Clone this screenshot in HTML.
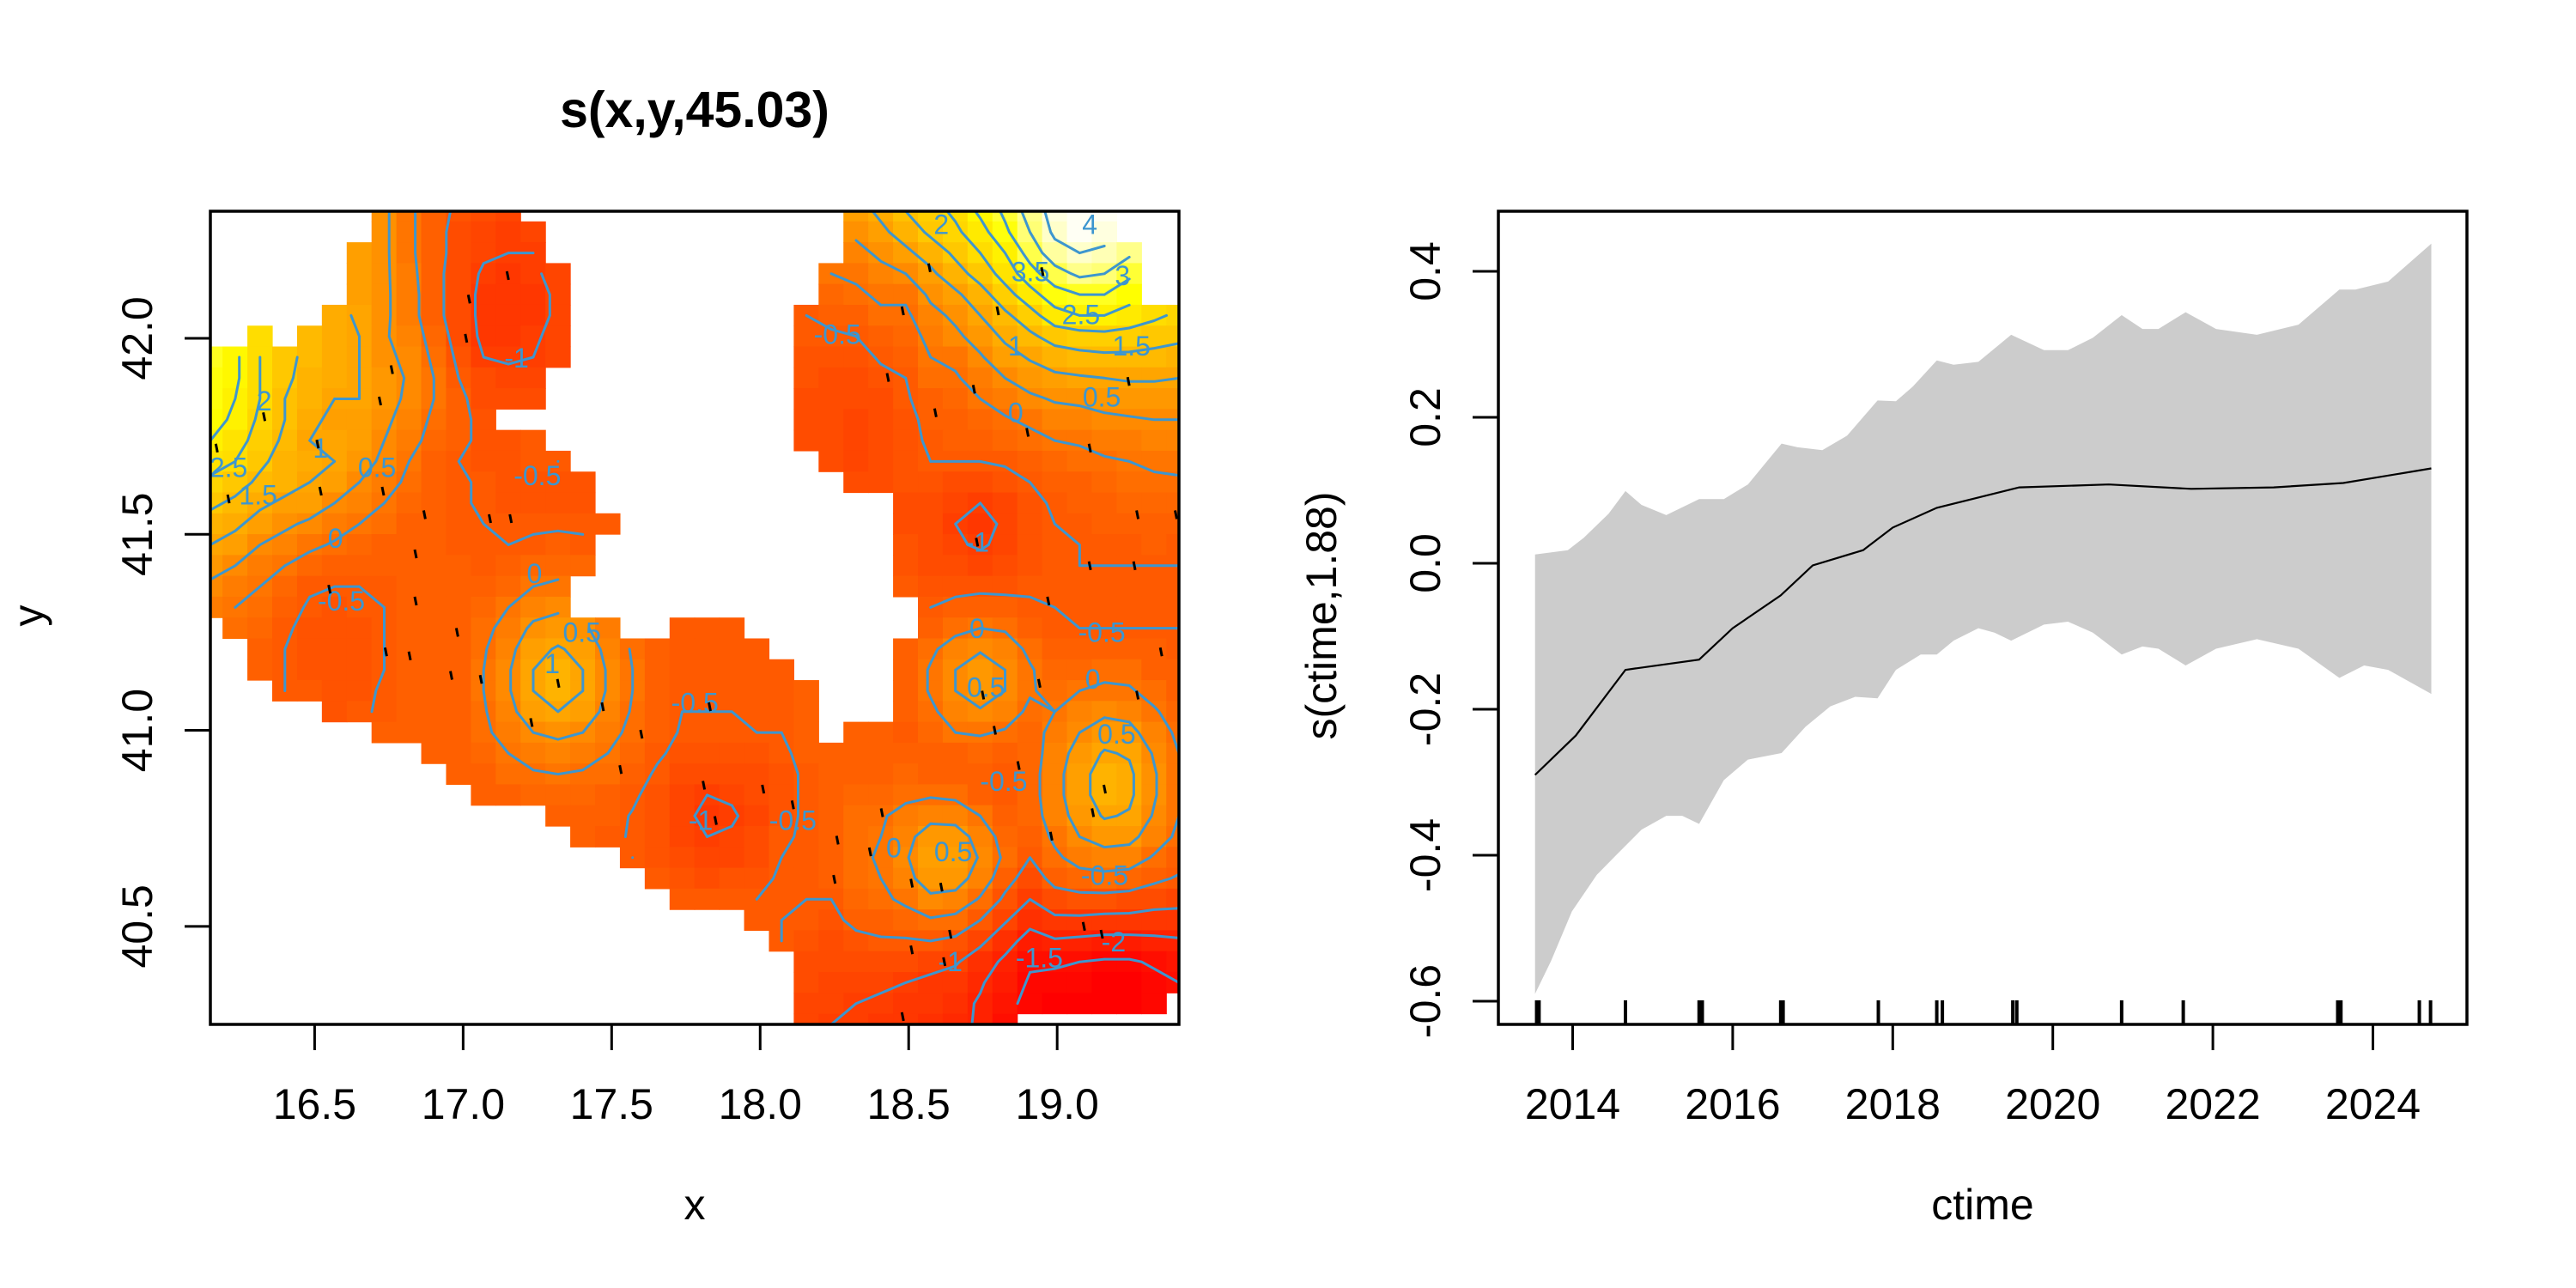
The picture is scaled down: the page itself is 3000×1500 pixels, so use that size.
<!DOCTYPE html>
<html>
<head>
<meta charset="utf-8">
<style>
html,body{margin:0;padding:0;background:#fff;}
svg{display:block;}
text{font-family:"Liberation Sans",Arial,sans-serif;fill:#000;}
</style>
</head>
<body>
<svg id="fig" width="3000" height="1500" viewBox="0 0 3000 1500" xmlns="http://www.w3.org/2000/svg">
  <rect x="0" y="0" width="3000" height="1500" fill="#fff"/>
  <defs>
    <clipPath id="clipL"><rect x="245" y="246" width="1128" height="947"/></clipPath>
    <clipPath id="clipR"><rect x="1745" y="246" width="1128" height="947"/></clipPath>
  </defs>
  <g id="leftPanel">
    <text x="809" y="148" font-size="59" font-weight="bold" text-anchor="middle">s(x,y,45.03)</text>
    <g id="heat" clip-path="url(#clipL)"></g>
    <g id="contours" clip-path="url(#clipL)"></g>
    <g id="clabels" clip-path="url(#clipL)"></g>
    <g id="pts" clip-path="url(#clipL)"></g>
    <rect x="245" y="246" width="1128" height="947" fill="none" stroke="#000" stroke-width="3.5"/>
    <g id="lAxes"></g>
    <text x="809" y="1420" font-size="50" text-anchor="middle">x</text>
    <text transform="translate(50,717) rotate(-90)" font-size="50" text-anchor="middle">y</text>
  </g>
  <g id="rightPanel">
    <g clip-path="url(#clipR)">
      <path id="band" fill="#cccccc" stroke="none"/>
      <path id="fit" fill="none" stroke="#000" stroke-width="2.2"/>
      <g id="rug"></g>
    </g>
    <rect x="1745" y="246" width="1128" height="947" fill="none" stroke="#000" stroke-width="3.5"/>
    <g id="rAxes"></g>
    <text x="2309" y="1420" font-size="50" text-anchor="middle">ctime</text>
    <text transform="translate(1556,717) rotate(-90)" font-size="50" text-anchor="middle">s(ctime,1.88)</text>
  </g>
</svg>
<script>
const NS = "http://www.w3.org/2000/svg";
const N = null;
// ---------- left panel data ----------
const xLim = [16.149, 19.41];
const yLim = [40.25, 42.324];
const xTicks = [16.5, 17.0, 17.5, 18.0, 18.5, 19.0];
const xTickLabels = ["16.5", "17.0", "17.5", "18.0", "18.5", "19.0"];
const yTicks = [40.5, 41.0, 41.5, 42.0];
const yTickLabels = ["40.5", "41.0", "41.5", "42.0"];
const zLim = [-2.3, 4.4];
const contourLevels = [-2, -1.5, -1, -0.5, 0, 0.5, 1, 1.5, 2, 2.5, 3, 3.5, 4];
const zGrid = [
[N,N,N,N,N,N,N,0.6,0.1,-0.3,-0.6,-0.8,-0.9,N,N,N,N,N,N,N,N,N,N,N,N,N,0.8,1.1,1.5,1.8,2.1,2.6,3.1,3.7,4.2,4.4,4.3,N,N,N],
[N,N,N,N,N,N,N,0.6,0.1,-0.3,-0.7,-0.9,-1.0,-0.9,N,N,N,N,N,N,N,N,N,N,N,N,0.6,0.9,1.2,1.6,1.9,2.3,2.9,3.5,4.1,4.3,4.2,N,N,N],
[N,N,N,N,N,N,0.9,0.6,0.1,-0.3,-0.7,-0.95,-1.0,-1.0,N,N,N,N,N,N,N,N,N,N,N,N,0.35,0.6,0.9,1.2,1.6,2.0,2.5,3.2,3.8,4.0,3.9,3.6,N,N],
[N,N,N,N,N,N,0.9,0.6,0.15,-0.3,-0.8,-1.05,-1.1,-1.05,-0.9,N,N,N,N,N,N,N,N,N,N,0.0,0.1,0.35,0.5,0.9,1.3,1.7,2.2,2.8,3.3,3.6,3.5,3.1,N,N],
[N,N,N,N,N,N,0.9,0.6,0.2,-0.3,-0.8,-1.1,-1.2,-1.1,-0.95,N,N,N,N,N,N,N,N,N,N,-0.2,-0.1,0.1,0.1,0.6,0.9,1.3,1.8,2.3,2.8,3.0,3.0,2.7,N,N],
[N,N,N,N,N,1.1,0.95,0.6,0.2,-0.3,-0.8,-1.1,-1.2,-1.1,-0.95,N,N,N,N,N,N,N,N,N,-0.5,-0.4,-0.3,-0.1,-0.1,0.35,0.6,1.0,1.4,1.8,2.3,2.5,2.5,2.3,2.1,1.9],
[N,N,2.1,N,1.4,1.1,1.0,0.55,0.3,-0.2,-0.7,-1.1,-1.15,-1.05,-0.9,N,N,N,N,N,N,N,N,N,-0.55,-0.55,-0.5,-0.3,-0.25,0.15,0.4,0.7,1.1,1.4,1.7,1.8,1.85,1.8,1.7,1.6],
[3.0,2.6,2.0,1.6,1.4,1.1,1.0,0.6,0.4,-0.1,-0.6,-1.0,-1.05,-1.0,-0.85,N,N,N,N,N,N,N,N,N,-0.6,-0.65,-0.65,-0.45,-0.4,0.0,0.1,0.45,0.8,1.05,1.25,1.35,1.4,1.4,1.35,1.3],
[2.9,2.6,2.0,1.6,1.3,1.1,1.0,0.7,0.45,0.0,-0.5,-0.8,-0.9,-0.85,N,N,N,N,N,N,N,N,N,N,-0.65,-0.75,-0.75,-0.6,-0.5,-0.15,-0.05,0.2,0.5,0.75,0.9,0.95,1.0,1.05,1.05,1.0],
[2.8,2.5,2.0,1.5,1.2,1.0,1.0,0.7,0.4,0.0,-0.4,-0.7,-0.8,-0.8,N,N,N,N,N,N,N,N,N,N,-0.7,-0.8,-0.8,-0.7,-0.55,-0.3,-0.2,0.0,0.2,0.4,0.55,0.6,0.7,0.75,0.75,0.75],
[2.7,2.4,1.9,1.5,1.1,0.9,0.9,0.6,0.3,-0.1,-0.4,-0.6,N,N,N,N,N,N,N,N,N,N,N,N,-0.7,-0.8,-0.85,-0.75,-0.6,-0.4,-0.3,-0.2,-0.05,0.1,0.25,0.3,0.4,0.45,0.5,0.5],
[2.5,2.2,1.8,1.4,1.0,0.95,0.8,0.5,0.2,-0.2,-0.4,-0.6,-0.6,-0.55,N,N,N,N,N,N,N,N,N,N,-0.7,-0.8,-0.85,-0.8,-0.6,-0.45,-0.4,-0.35,-0.25,-0.15,0.0,0.05,0.15,0.2,0.3,0.3],
[2.2,2.0,1.6,1.3,1.1,1.0,0.7,0.4,0.0,-0.3,-0.5,-0.6,-0.6,-0.55,-0.5,N,N,N,N,N,N,N,N,N,N,-0.8,-0.85,-0.8,-0.65,-0.5,-0.5,-0.5,-0.45,-0.35,-0.2,-0.15,-0.05,0.0,0.1,0.1],
[1.9,1.7,1.4,1.2,1.0,0.8,0.5,0.2,-0.1,-0.3,-0.45,-0.55,-0.6,-0.6,-0.6,-0.6,N,N,N,N,N,N,N,N,N,N,-0.8,-0.75,-0.65,-0.6,-0.7,-0.75,-0.65,-0.5,-0.35,-0.3,-0.2,-0.15,-0.1,-0.05],
[1.6,1.4,1.1,0.9,0.8,0.5,0.3,0.0,-0.2,-0.35,-0.45,-0.55,-0.6,-0.6,-0.6,-0.6,N,N,N,N,N,N,N,N,N,N,N,N,-0.7,-0.7,-0.9,-1.0,-0.85,-0.6,-0.45,-0.4,-0.3,-0.25,-0.2,-0.2],
[1.3,1.1,0.8,0.6,0.4,0.2,0.0,-0.15,-0.3,-0.35,-0.45,-0.5,-0.55,-0.55,-0.55,-0.55,-0.55,N,N,N,N,N,N,N,N,N,N,N,-0.7,-0.75,-1.0,-1.1,-0.95,-0.65,-0.5,-0.45,-0.4,-0.35,-0.3,-0.35],
[1.0,0.8,0.5,0.3,0.1,-0.05,-0.2,-0.3,-0.3,-0.35,-0.45,-0.5,-0.5,-0.45,-0.4,-0.45,N,N,N,N,N,N,N,N,N,N,N,N,-0.65,-0.75,-0.95,-1.05,-0.9,-0.65,-0.55,-0.5,-0.45,-0.45,-0.4,-0.45],
[0.7,0.5,0.2,0.0,-0.2,-0.3,-0.35,-0.35,-0.35,-0.35,-0.42,-0.45,-0.4,-0.25,-0.2,-0.25,N,N,N,N,N,N,N,N,N,N,N,N,-0.6,-0.7,-0.8,-0.85,-0.8,-0.6,-0.55,-0.5,-0.5,-0.5,-0.5,-0.5],
[0.4,0.2,0.0,-0.2,-0.45,-0.5,-0.5,-0.45,-0.4,-0.35,-0.4,-0.35,-0.2,0.0,0.1,N,N,N,N,N,N,N,N,N,N,N,N,N,-0.55,-0.6,-0.6,-0.6,-0.6,-0.55,-0.55,-0.55,-0.55,-0.55,-0.55,-0.55],
[0.2,0.0,-0.1,-0.35,-0.55,-0.6,-0.55,-0.5,-0.4,-0.35,-0.37,-0.25,0.0,0.3,0.4,N,N,N,N,N,N,N,N,N,N,N,N,N,N,-0.5,-0.4,-0.3,-0.35,-0.45,-0.5,-0.55,-0.55,-0.55,-0.55,-0.55],
[N,-0.1,-0.2,-0.45,-0.6,-0.65,-0.6,-0.5,-0.4,-0.35,-0.33,-0.15,0.2,0.6,0.75,0.6,0.2,N,N,-0.45,-0.45,-0.45,N,N,N,N,N,N,N,-0.4,-0.15,0.0,-0.05,-0.3,-0.45,-0.5,-0.5,-0.5,-0.5,-0.5],
[N,N,-0.3,-0.5,-0.6,-0.65,-0.6,-0.5,-0.4,-0.35,-0.3,-0.05,0.35,0.85,1.05,0.85,0.35,-0.05,-0.3,-0.45,-0.45,-0.45,-0.45,N,N,N,N,N,-0.4,-0.1,0.25,0.45,0.25,-0.1,-0.35,-0.35,-0.3,-0.3,-0.4,-0.45],
[N,N,-0.3,-0.5,-0.6,-0.65,-0.6,-0.5,-0.4,-0.35,-0.3,0.0,0.45,1.0,1.2,1.0,0.45,0.0,-0.3,-0.45,-0.45,-0.45,-0.45,-0.45,N,N,N,N,-0.35,0.05,0.5,0.75,0.5,0.05,-0.25,-0.2,-0.15,-0.15,-0.3,-0.4],
[N,N,N,-0.5,-0.55,-0.6,-0.6,-0.45,-0.4,-0.35,-0.3,0.0,0.45,1.0,1.2,1.0,0.45,0.0,-0.3,-0.47,-0.47,-0.47,-0.45,-0.45,-0.4,N,N,N,-0.35,0.05,0.5,0.75,0.5,0.05,-0.15,0.0,0.1,0.05,-0.15,-0.3],
[N,N,N,N,N,-0.6,-0.55,-0.45,-0.35,-0.35,-0.32,-0.05,0.35,0.8,1.0,0.8,0.35,-0.05,-0.33,-0.5,-0.5,-0.5,-0.48,-0.47,-0.4,N,N,N,-0.4,-0.1,0.25,0.45,0.25,-0.1,0.0,0.25,0.4,0.35,0.05,-0.2],
[N,N,N,N,N,N,N,-0.4,-0.35,-0.35,-0.35,-0.1,0.2,0.5,0.6,0.5,0.2,-0.15,-0.38,-0.53,-0.55,-0.55,-0.5,-0.5,-0.4,N,-0.4,-0.4,-0.45,-0.25,0.0,0.05,-0.05,-0.2,0.15,0.5,0.75,0.65,0.25,-0.1],
[N,N,N,N,N,N,N,N,N,-0.35,-0.38,-0.2,0.0,0.2,0.3,0.2,0.0,-0.25,-0.45,-0.6,-0.65,-0.65,-0.58,-0.55,-0.42,-0.3,-0.35,-0.35,-0.4,-0.35,-0.3,-0.25,-0.35,-0.25,0.25,0.7,1.05,0.95,0.45,0.0],
[N,N,N,N,N,N,N,N,N,N,-0.42,-0.3,-0.15,-0.05,0.0,-0.05,-0.15,-0.35,-0.55,-0.7,-0.8,-0.8,-0.7,-0.6,-0.45,-0.3,-0.3,-0.3,-0.25,-0.3,-0.35,-0.4,-0.5,-0.2,0.3,0.85,1.2,1.1,0.55,0.05],
[N,N,N,N,N,N,N,N,N,N,N,-0.38,-0.3,-0.25,-0.25,-0.25,-0.3,-0.45,-0.62,-0.85,-1.0,-0.95,-0.8,-0.6,-0.45,-0.3,-0.2,-0.2,-0.1,-0.05,-0.1,-0.3,-0.5,-0.2,0.3,0.85,1.2,1.1,0.55,0.05],
[N,N,N,N,N,N,N,N,N,N,N,N,N,N,-0.35,-0.35,-0.4,-0.52,-0.66,-0.9,-1.1,-1.05,-0.85,-0.6,-0.45,-0.3,-0.15,-0.05,0.15,0.35,0.3,0.0,-0.35,-0.25,0.25,0.7,1.05,0.95,0.45,0.0],
[N,N,N,N,N,N,N,N,N,N,N,N,N,N,N,-0.4,-0.45,-0.52,-0.65,-0.85,-1.0,-0.95,-0.8,-0.55,-0.45,-0.3,-0.1,0.0,0.35,0.75,0.75,0.3,-0.2,-0.35,0.1,0.5,0.7,0.65,0.25,-0.1],
[N,N,N,N,N,N,N,N,N,N,N,N,N,N,N,N,N,-0.5,-0.6,-0.75,-0.85,-0.85,-0.7,-0.5,-0.45,-0.35,-0.1,0.05,0.45,0.9,0.9,0.45,-0.1,-0.5,-0.1,0.2,0.3,0.25,-0.05,-0.3],
[N,N,N,N,N,N,N,N,N,N,N,N,N,N,N,N,N,N,-0.55,-0.65,-0.7,-0.65,-0.6,-0.45,-0.45,-0.4,-0.15,0.0,0.35,0.75,0.7,0.3,-0.3,-0.75,-0.35,-0.2,-0.15,-0.2,-0.4,-0.55],
[N,N,N,N,N,N,N,N,N,N,N,N,N,N,N,N,N,N,N,-0.55,-0.55,-0.55,-0.5,-0.45,-0.5,-0.5,-0.25,-0.1,0.1,0.4,0.35,-0.05,-0.6,-1.0,-0.7,-0.65,-0.65,-0.7,-0.8,-0.85],
[N,N,N,N,N,N,N,N,N,N,N,N,N,N,N,N,N,N,N,N,N,N,-0.45,-0.5,-0.55,-0.6,-0.4,-0.3,-0.2,-0.05,-0.15,-0.5,-0.95,-1.35,-1.1,-1.1,-1.15,-1.15,-1.2,-1.2],
[N,N,N,N,N,N,N,N,N,N,N,N,N,N,N,N,N,N,N,N,N,N,N,-0.5,-0.6,-0.7,-0.6,-0.55,-0.55,-0.5,-0.6,-0.9,-1.3,-1.7,-1.55,-1.6,-1.65,-1.65,-1.6,-1.55],
[N,N,N,N,N,N,N,N,N,N,N,N,N,N,N,N,N,N,N,N,N,N,N,N,-0.7,-0.8,-0.75,-0.75,-0.8,-0.85,-0.95,-1.25,-1.6,-1.95,-1.95,-2.0,-2.05,-2.05,-1.95,-1.85],
[N,N,N,N,N,N,N,N,N,N,N,N,N,N,N,N,N,N,N,N,N,N,N,N,-0.8,-0.9,-0.9,-0.95,-1.0,-1.1,-1.2,-1.45,-1.75,-2.05,-2.1,-2.15,-2.2,-2.2,-2.1,-2.0],
[N,N,N,N,N,N,N,N,N,N,N,N,N,N,N,N,N,N,N,N,N,N,N,N,-0.85,-0.95,-1.0,-1.05,-1.1,-1.2,-1.35,-1.55,-1.85,-2.15,-2.2,-2.25,-2.3,-2.25,-2.15,N],
[N,N,N,N,N,N,N,N,N,N,N,N,N,N,N,N,N,N,N,N,N,N,N,N,-0.9,-1.0,-1.05,-1.1,-1.15,-1.3,-1.4,-1.55,-1.9,N,N,N,N,N,N,N]
];
const labelX = [16.21,16.33,16.31,16.52,16.71,16.57,16.59,17.18,17.25,17.24,17.40,17.30,17.78,17.80,18.11,18.45,18.65,18.73,18.76,18.73,18.82,19.12,19.20,19.16,18.94,19.19,18.64,18.26,18.86,19.15,18.86,19.25,19.08,19.22,18.91,19.11,18.61,19.15];
const labelY = [41.67,41.84,41.60,41.72,41.67,41.49,41.33,41.95,41.65,41.40,41.25,41.17,41.07,40.77,40.77,40.70,40.69,41.26,41.11,41.48,40.87,41.13,40.99,40.63,40.42,40.46,40.41,42.01,41.81,41.85,41.98,41.98,42.06,42.16,42.17,42.29,42.29,41.25];
const labelText = ["2.5","2","1.5","1","0.5","0","-0.5","-1","-0.5","0","0.5","1","-0.5","-1","-0.5","0","0.5","0","0.5","-1","-0.5","0","0.5","-0.5","-1.5","-2","-1","-0.5","0","0.5","1","1.5","2.5","3","3.5","4","2","-0.5"];
const ptX = [17.15,17.02,17.01,16.76,16.72,16.51,16.33,16.17,16.21,16.52,16.73,16.87,17.09,17.16,16.84,16.84,16.55,16.74,16.82,16.98,16.96,17.06,17.23,17.32,17.47,17.53,17.60,17.83,17.81,17.85,18.01,18.11,18.26,18.37,18.41,18.51,18.61,18.64,18.51,18.48,18.75,18.79,18.87,18.94,18.98,19.12,19.16,19.27,19.35,19.26,19.11,18.97,19.27,19.40,18.73,18.43,18.59,18.48,18.57,18.80,18.95,18.72,18.90,19.11,19.24,19.09,19.15,18.62,18.25];
const ptY = [42.16,42.10,42.00,41.92,41.84,41.73,41.80,41.72,41.59,41.61,41.61,41.55,41.54,41.54,41.45,41.33,41.36,41.20,41.19,41.25,41.14,41.13,41.02,41.12,41.06,40.90,40.99,41.06,40.86,40.77,40.85,40.81,40.72,40.69,40.79,40.61,40.60,40.48,40.44,40.27,41.09,41.00,40.91,41.12,40.73,40.79,40.85,41.09,41.20,41.42,41.42,41.33,41.55,41.55,41.48,41.90,41.81,42.07,42.18,42.07,42.17,41.87,41.76,41.72,41.89,40.50,40.48,40.41,40.62];

// ---------- right panel data ----------
const tTicks = [2014, 2016, 2018, 2020, 2022, 2024];
const tTickLabels = ["2014", "2016", "2018", "2020", "2022", "2024"];
const vTicks = [-0.6, -0.4, -0.2, 0.0, 0.2, 0.4];
const vTickLabels = ["-0.6", "-0.4", "-0.2", "0.0", "0.2", "0.4"];
const fitT = [2013.53,2014.04,2014.66,2015.58,2016.0,2016.6,2017.0,2017.63,2018.0,2018.55,2019.58,2020.7,2021.73,2022.76,2023.63,2024.73];
const fitV = [-0.29,-0.236,-0.146,-0.132,-0.089,-0.044,-0.003,0.018,0.049,0.076,0.104,0.108,0.102,0.104,0.11,0.13];
const upperT = [2013.53,2013.94,2014.14,2014.45,2014.66,2014.86,2015.17,2015.58,2015.89,2016.19,2016.61,2016.81,2017.12,2017.43,2017.81,2018.04,2018.25,2018.55,2018.76,2019.07,2019.48,2019.89,2020.19,2020.50,2020.86,2021.12,2021.32,2021.66,2022.04,2022.55,2023.07,2023.58,2023.78,2024.19,2024.73];
const upperV = [0.012,0.018,0.035,0.068,0.099,0.080,0.066,0.088,0.088,0.108,0.164,0.159,0.155,0.175,0.223,0.222,0.242,0.278,0.272,0.276,0.313,0.292,0.292,0.309,0.340,0.321,0.321,0.344,0.321,0.313,0.327,0.375,0.375,0.386,0.438];
const lowerT = [2013.53,2013.73,2013.99,2014.30,2014.55,2014.86,2015.17,2015.37,2015.58,2015.89,2016.19,2016.61,2016.91,2017.22,2017.53,2017.81,2018.04,2018.35,2018.55,2018.76,2019.07,2019.27,2019.48,2019.89,2020.19,2020.50,2020.86,2021.12,2021.32,2021.66,2022.04,2022.55,2023.07,2023.58,2023.89,2024.19,2024.73];
const lowerV = [-0.590,-0.545,-0.477,-0.427,-0.399,-0.365,-0.346,-0.346,-0.357,-0.297,-0.269,-0.260,-0.224,-0.196,-0.183,-0.185,-0.146,-0.125,-0.125,-0.106,-0.089,-0.095,-0.106,-0.084,-0.080,-0.095,-0.125,-0.114,-0.117,-0.140,-0.117,-0.104,-0.117,-0.157,-0.140,-0.146,-0.179];
const rugT = [2013.55,2013.58,2014.66,2015.58,2015.62,2016.6,2016.63,2017.82,2018.55,2018.62,2019.5,2019.55,2020.86,2021.63,2023.56,2023.6,2024.58,2024.72];

// ---------- scales ----------
const L = {x0:245, x1:1373, y0:246, y1:1193};
const R = {x0:1745, x1:2873, y0:246, y1:1193};
function sx(x){ return L.x0 + (x - xLim[0]) / (xLim[1] - xLim[0]) * (L.x1 - L.x0); }
function sy(y){ return L.y0 + (yLim[1] - y) / (yLim[1] - yLim[0]) * (L.y1 - L.y0); }
function tx(t){ return 1831.5 + (t - 2014) * 93.2; }
function ty(v){ return 656 - 850 * v; }

function hsv(h, s, v){
  const i = Math.floor(h * 6), f = h * 6 - i;
  const p = v * (1 - s), q = v * (1 - f * s), t = v * (1 - (1 - f) * s);
  let r, g, b;
  switch (i % 6){case 0:r=v;g=t;b=p;break;case 1:r=q;g=v;b=p;break;case 2:r=p;g=v;b=t;break;case 3:r=p;g=q;b=v;break;case 4:r=t;g=p;b=v;break;default:r=v;g=p;b=q;}
  return "rgb(" + Math.round(r*255) + "," + Math.round(g*255) + "," + Math.round(b*255) + ")";
}
const heatPal = (function(){
  const n = 50, j = Math.floor(n / 4), i = n - j, out = [];
  for (let k = 0; k < i; k++) out.push(hsv((k / (i - 1)) * (1 / 6), 1, 1));
  for (let k = 0; k < j; k++){ const s = (1 - 1/(2*j)) + k * ((1/(2*j)) - (1 - 1/(2*j))) / (j - 1); out.push(hsv(1/6, s, 1)); }
  return out;
})();
function zCol(z){
  let t = (z - zLim[0]) / (zLim[1] - zLim[0]);
  let k = Math.floor(t * 50); if (k < 0) k = 0; if (k > 49) k = 49;
  return heatPal[k];
}

const nRow = zGrid.length, nCol = zGrid[0].length;
function gx(i){ return xLim[0] + i * (xLim[1] - xLim[0]) / (nCol - 1); }
function gy(j){ return yLim[1] - j * (yLim[1] - yLim[0]) / (nRow - 1); }

const heat = document.getElementById("heat");
const cw = (L.x1 - L.x0) / (nCol - 1), ch = (L.y1 - L.y0) / (nRow - 1);
for (let j = 0; j < nRow; j++){
  for (let i = 0; i < nCol; i++){
    const z = zGrid[j][i];
    if (z === null) continue;
    const r = document.createElementNS(NS, "rect");
    r.setAttribute("x", (sx(gx(i)) - cw/2 - 0.3).toFixed(2));
    r.setAttribute("y", (sy(gy(j)) - ch/2 - 0.3).toFixed(2));
    r.setAttribute("width", (cw + 0.6).toFixed(2));
    r.setAttribute("height", (ch + 0.6).toFixed(2));
    r.setAttribute("fill", zCol(z));
    
    
    heat.appendChild(r);
  }
}

const cg = document.getElementById("contours");
contourLevels.forEach(function(lev){
  let d = "";
  for (let j = 0; j < nRow - 1; j++){
    for (let i = 0; i < nCol - 1; i++){
      const a = zGrid[j][i], b = zGrid[j][i+1], c = zGrid[j+1][i+1], e = zGrid[j+1][i];
      if (a === null || b === null || c === null || e === null) continue;
      const x0 = sx(gx(i)), x1 = sx(gx(i+1)), y0 = sy(gy(j)), y1 = sy(gy(j+1));
      const pts = [];
      function cross(v1, v2, p1, p2){
        if ((v1 < lev) !== (v2 < lev)){
          const t = (lev - v1) / (v2 - v1);
          pts.push([p1[0] + t*(p2[0]-p1[0]), p1[1] + t*(p2[1]-p1[1])]);
        }
      }
      cross(a, b, [x0,y0], [x1,y0]);
      cross(b, c, [x1,y0], [x1,y1]);
      cross(e, c, [x0,y1], [x1,y1]);
      cross(a, e, [x0,y0], [x0,y1]);
      for (let k = 0; k + 1 < pts.length; k += 2){
        d += "M" + pts[k][0].toFixed(1) + "," + pts[k][1].toFixed(1) + "L" + pts[k+1][0].toFixed(1) + "," + pts[k+1][1].toFixed(1);
      }
    }
  }
  if (d){
    const p = document.createElementNS(NS, "path");
    p.setAttribute("d", d);
    p.setAttribute("fill", "none");
    p.setAttribute("stroke", "#3d96cf");
    p.setAttribute("stroke-width", "3");
    p.setAttribute("stroke-linecap", "round");
    
    
    cg.appendChild(p);
  }
});

const clg = document.getElementById("clabels");
for (let k = 0; k < labelX.length; k++){
  const t = document.createElementNS(NS, "text");
  t.setAttribute("x", sx(labelX[k]).toFixed(1));
  t.setAttribute("y", (sy(labelY[k]) + 11).toFixed(1));
  t.setAttribute("font-size", "32");
  t.setAttribute("text-anchor", "middle");
  t.setAttribute("style", "fill:#3d96cf");
  t.textContent = labelText[k];
  
  
  clg.appendChild(t);
}

const pg = document.getElementById("pts");
for (let k = 0; k < ptX.length; k++){
  const X = sx(ptX[k]), Y = sy(ptY[k]);
  const l = document.createElementNS(NS, "line");
  l.setAttribute("x1", (X - 1).toFixed(1)); l.setAttribute("y1", (Y - 5).toFixed(1));
  l.setAttribute("x2", (X + 1).toFixed(1)); l.setAttribute("y2", (Y + 5).toFixed(1));
  l.setAttribute("stroke", "#000"); l.setAttribute("stroke-width", "3");
  
  
  pg.appendChild(l);
}

function addLine(g, x1, y1, x2, y2, name){
  const l = document.createElementNS(NS, "line");
  l.setAttribute("x1", x1); l.setAttribute("y1", y1); l.setAttribute("x2", x2); l.setAttribute("y2", y2);
  l.setAttribute("stroke", "#000"); l.setAttribute("stroke-width", "3");
  
  
  g.appendChild(l);
}
function addText(g, x, y, s, rot, name){
  const t = document.createElementNS(NS, "text");
  t.setAttribute("font-size", "50");
  t.setAttribute("text-anchor", "middle");
  if (rot) t.setAttribute("transform", "translate(" + x + "," + y + ") rotate(-90)");
  else { t.setAttribute("x", x); t.setAttribute("y", y); }
  t.textContent = s;
  
  
  g.appendChild(t);
}
const la = document.getElementById("lAxes");
xTicks.forEach(function(v, k){
  const X = sx(v);
  addLine(la, X, L.y1, X, L.y1 + 30, "x-tick");
  addText(la, X, 1303, xTickLabels[k], false, "x-tick-label");
});
yTicks.forEach(function(v, k){
  const Y = sy(v);
  addLine(la, L.x0, Y, L.x0 - 30, Y, "y-tick");
  addText(la, 177, Y, yTickLabels[k], true, "y-tick-label");
});

function poly(ts, vs){ return ts.map(function(t, k){ return (k ? "L" : "M") + tx(t).toFixed(1) + "," + ty(vs[k]).toFixed(1); }).join(""); }
let bd = poly(upperT, upperV);
for (let k = lowerT.length - 1; k >= 0; k--) bd += "L" + tx(lowerT[k]).toFixed(1) + "," + ty(lowerV[k]).toFixed(1);
bd += "Z";
document.getElementById("band").setAttribute("d", bd);
document.getElementById("fit").setAttribute("d", poly(fitT, fitV));
const rg = document.getElementById("rug");
rugT.forEach(function(t){
  const X = tx(t);
  const l = document.createElementNS(NS, "line");
  l.setAttribute("x1", X); l.setAttribute("x2", X);
  l.setAttribute("y1", R.y1); l.setAttribute("y2", R.y1 - 28);
  l.setAttribute("stroke", "#000"); l.setAttribute("stroke-width", "4");
  
  
  rg.appendChild(l);
});
const ra = document.getElementById("rAxes");
tTicks.forEach(function(v, k){
  const X = tx(v);
  addLine(ra, X, R.y1, X, R.y1 + 30, "ctime-tick");
  addText(ra, X, 1303, tTickLabels[k], false, "ctime-tick-label");
});
vTicks.forEach(function(v, k){
  const Y = ty(v);
  addLine(ra, R.x0, Y, R.x0 - 30, Y, "s-tick");
  addText(ra, 1677, Y, vTickLabels[k], true, "s-tick-label");
});
</script>
</body>
</html>
